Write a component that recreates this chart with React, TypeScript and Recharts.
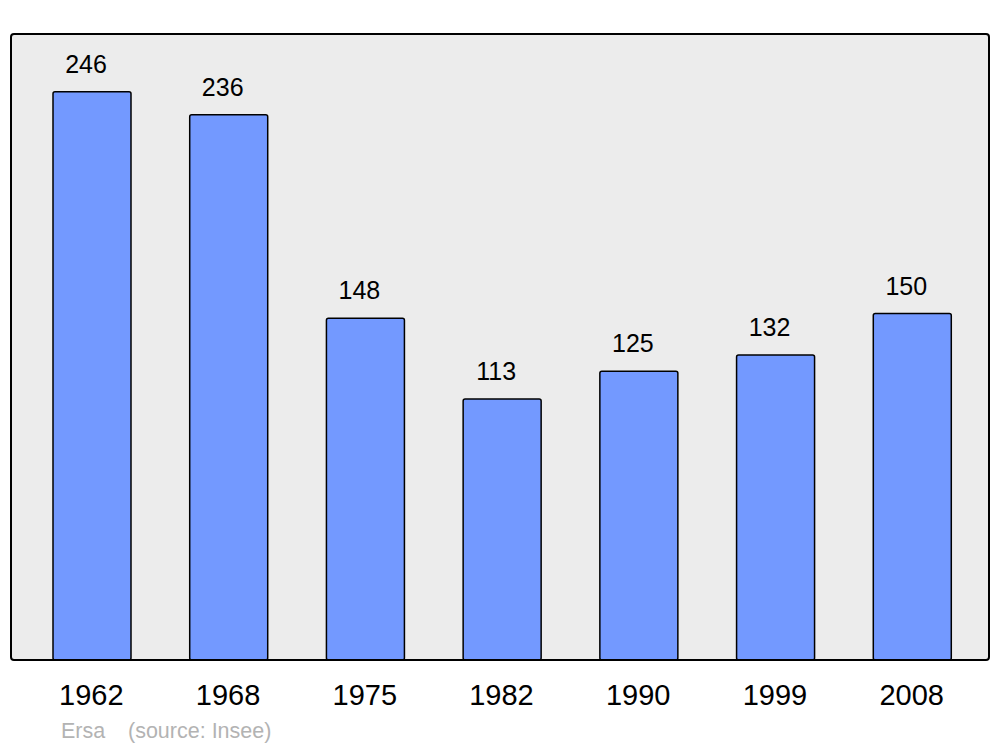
import React from 'react';
import { BarChart, Bar, XAxis, YAxis, CartesianGrid, LabelList } from 'recharts';

const years = ['1962', '1968', '1975', '1982', '1990', '1999', '2008'];
const population = [246, 236, 148, 113, 125, 132, 150];

const data = years.map((year, i) => ({ year, value: population[i] }));

const FONT = '"Liberation Sans", Arial, sans-serif';

const App: React.FC = () => {
  return (
    <div style={{ position: 'absolute', left: 0, top: 0, width: 1000, height: 747, background: '#fff' }}>
      <BarChart
        width={1000}
        height={747}
        data={data}
        margin={{ top: 34, right: 11, bottom: 47, left: 11 }}
        barCategoryGap={0}
      >
        <CartesianGrid fill="#ececec" horizontal={false} vertical={false} />
        <XAxis
          dataKey="year"
          axisLine={false}
          tickLine={false}
          tickSize={0}
          tickMargin={24}
          height={40}
          padding={{ left: 13, right: 8 }}
          tick={{ fill: '#000', fontSize: 29, fontFamily: FONT, dx: -1 }}
          interval={0}
        />
        <YAxis hide domain={[0, 271]} />
        <Bar
          dataKey="value"
          fill="#7399ff"
          stroke="#000"
          strokeWidth={1.5}
          barSize={78}
          radius={2}
          isAnimationActive={false}
        >
          <LabelList
            dataKey="value"
            position="top"
            offset={19}
            dx={-6}
            fill="#000"
            fontSize={25}
            fontFamily={FONT}
          />
        </Bar>
      </BarChart>
      {/* plot frame */}
      <div
        style={{
          position: 'absolute',
          left: 10,
          top: 33,
          width: 980,
          height: 628,
          boxSizing: 'border-box',
          border: '2.5px solid #000',
          borderRadius: 4,
          pointerEvents: 'none',
        }}
      />
      <div
        style={{
          position: 'absolute',
          left: 61,
          top: 719,
          fontFamily: FONT,
          fontSize: 21.5,
          color: '#b3b3b3',
        }}
      >
        Ersa
      </div>
      <div
        style={{
          position: 'absolute',
          left: 128,
          top: 719,
          fontFamily: FONT,
          fontSize: 21.5,
          color: '#b3b3b3',
        }}
      >
        (source: Insee)
      </div>
    </div>
  );
};

export default App;
